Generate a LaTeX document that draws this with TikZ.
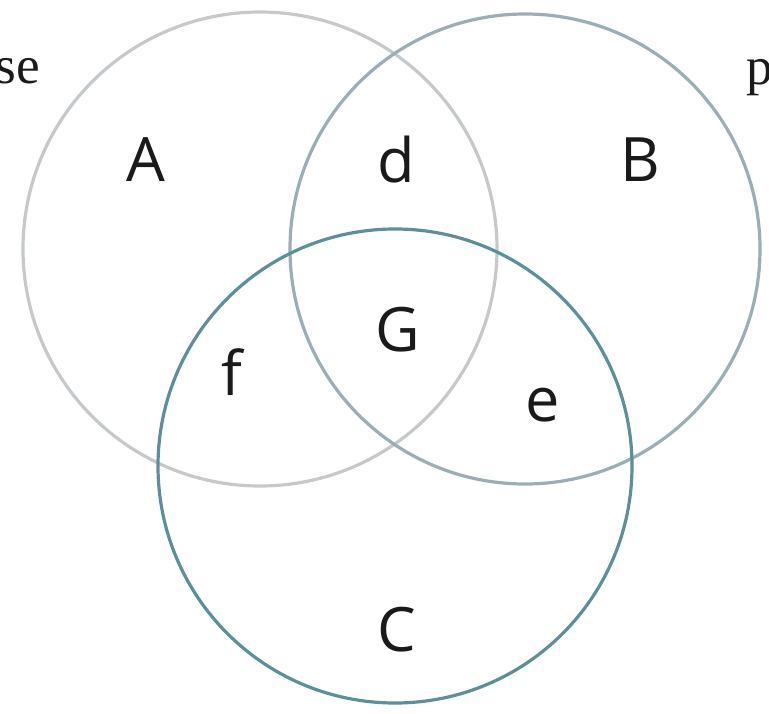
\documentclass[tikz,border=0pt]{standalone}
\usepackage{fontspec}
\setmainfont{Liberation Serif}
\newfontfamily\labelfont{Open Sans}
\usepackage{xcolor}
\usetikzlibrary{positioning}
\definecolor{setA}{HTML}{C6C9CB}
\definecolor{setB}{HTML}{9BAEB6}
\definecolor{setC}{HTML}{5C8F99}
\definecolor{ink}{HTML}{1A1A1A}

\begin{document}
\begin{tikzpicture}[
  x=0.0264cm,y=-0.0264cm,
  ring/.style={line width=2.4pt},
  region/.style={font=\labelfont\fontsize{46}{50}\selectfont,text=ink,inner sep=0pt},
  margintext/.style={font=\fontsize{40}{44}\selectfont,text=ink,inner sep=0pt}
]
  \useasboundingbox (0,0) rectangle (769,714);

  % the three sets
  \draw[ring,draw=setA] (260,249) circle (237);
  \draw[ring,draw=setB] (525,249) circle (235);
  \draw[ring,draw=setC] (395,466) circle (237);

  % region letters
  \node[region] (lblA) at (146,160) {A};
  \node[region] (lblD) at (396,160) {d};
  \node[region] (lblB) at (640,160) {B};
  \node[region] (lblG) at (398,330) {G};
  \node[region] (lblF) at (232,372) {f};
  \node[region] (lblE) at (543,405) {e};
  \node[region] (lblC) at (397,630) {C};

  % cut-off text at the page edges
  \node[margintext,anchor=base east] (leftword) at (40,83) {se};
  \node[margintext,anchor=base west] (rightword) at (746,84) {p};
\end{tikzpicture}
\end{document}
